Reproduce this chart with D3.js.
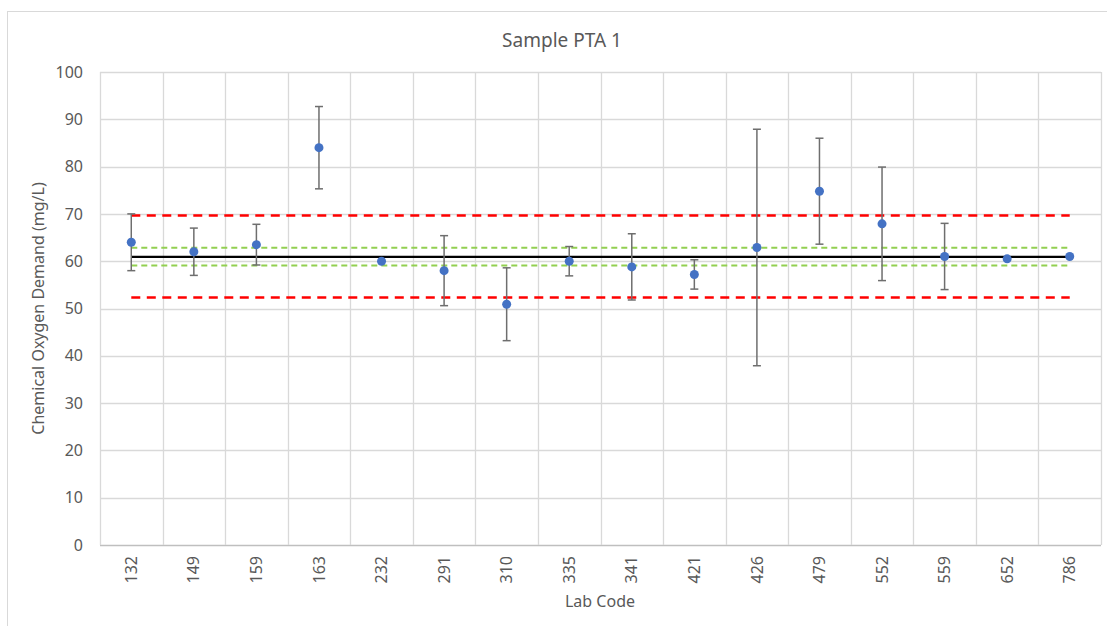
<!DOCTYPE html>
<html>
<head>
<meta charset="utf-8">
<script src="https://cdn.jsdelivr.net/npm/d3@7"></script>
<style>
body { margin: 0; background: #fff; }
text { font-family: "Noto Sans", sans-serif; fill: #595959; }
</style>
</head>
<body>
<div id="chart"></div>
<script>
var labCodes = ["132", "149", "159", "163", "232", "291", "310", "335", "341", "421", "426", "479", "552", "559", "652", "786"];
var results = [64, 62, 63.5, 84, 60, 58, 50.9, 60, 58.8, 57.2, 62.9, 74.8, 67.9, 61, 60.5, 61];
var uncertainty = [6, 5, 4.3, 8.7, 0, 7.4, 7.7, 3.1, 7, 3.1, 25, 11.2, 12, 7, 0, 0];
var assignedValue = 60.9;
var innerLimits = [59.1, 62.85];
var outerLimits = [52.35, 69.65];
var yTicks = [0, 10, 20, 30, 40, 50, 60, 70, 80, 90, 100];

var svg_size = {w: 1107, h: 626};
var margin = {top: 72, right: 6, bottom: 81, left: 100};
var plot_w = svg_size.w - margin.left - margin.right;
var plot_h = svg_size.h - margin.top - margin.bottom;

var svg = d3.select("#chart")
	.append("svg")
	.attr("width", svg_size.w)
	.attr("height", svg_size.h);

// outer chart border
svg.append("rect")
	.attr("x", 7.5).attr("y", 11.5)
	.attr("width", 1110).attr("height", 640)
	.attr("fill", "none")
	.attr("stroke", "#d9d9d9");

var g = svg.append("g").attr("transform", "translate(" + margin.left + "," + margin.top + ")");

var x = d3.scaleBand().domain(labCodes).range([0, plot_w]);
var y = d3.scaleLinear().domain([0, 100]).range([plot_h, 0]);
var xc = function(d) { return x(d) + x.bandwidth() / 2; };

// horizontal gridlines
g.selectAll(".hgrid")
	.data(yTicks).enter()
	.append("line")
	.attr("x1", 0).attr("x2", plot_w)
	.attr("y1", d => Math.round(y(d)) + 0.5).attr("y2", d => Math.round(y(d)) + 0.5)
	.attr("stroke", d => d == 0 ? "#bfbfbf" : "#d9d9d9")
	.attr("stroke-width", 1.3);

// vertical gridlines between categories
g.selectAll(".vgrid")
	.data(labCodes.concat(["end"])).enter()
	.append("line")
	.attr("x1", (d, i) => Math.round(i * x.bandwidth()) + 0.5)
	.attr("x2", (d, i) => Math.round(i * x.bandwidth()) + 0.5)
	.attr("y1", 0).attr("y2", plot_h)
	.attr("stroke", "#d9d9d9")
	.attr("stroke-width", 1.3);

// y axis labels
var yAxis = g.append("g")
	.call(d3.axisLeft(y).tickValues(yTicks).tickSize(0).tickPadding(17));
yAxis.select(".domain").remove();
yAxis.selectAll("text").style("font-size", "16px").attr("fill", "#595959");

// x axis labels
var xAxis = g.append("g")
	.attr("transform", "translate(0," + plot_h + ")")
	.call(d3.axisBottom(x).tickSize(0));
xAxis.select(".domain").remove();
xAxis.selectAll("text")
	.style("font-size", "16px")
	.attr("fill", "#595959")
	.attr("text-anchor", "end")
	.attr("transform", "rotate(-90)")
	.attr("x", -11).attr("y", 0).attr("dy", "0.35em");

// reference lines
var first = xc(labCodes[0]), last = xc(labCodes[labCodes.length - 1]);
function refLine(v, color, width, dash) {
	g.append("line")
		.attr("x1", first).attr("x2", last)
		.attr("y1", y(v)).attr("y2", y(v))
		.attr("stroke", color)
		.attr("stroke-width", width)
		.attr("stroke-dasharray", dash);
}
outerLimits.forEach(v => refLine(v, "#ff0000", 2.5, "9,6.5"));
innerLimits.forEach(v => refLine(v, "#92d050", 2, "6,4"));
refLine(assignedValue, "#000000", 2.3, null);

// error bars
var bars = g.selectAll(".err")
	.data(labCodes.map((c, i) => ({code: c, v: results[i], e: uncertainty[i]})).filter(d => d.e > 0))
	.enter().append("g");
bars.append("line")
	.attr("x1", d => xc(d.code)).attr("x2", d => xc(d.code))
	.attr("y1", d => y(d.v + d.e)).attr("y2", d => y(d.v - d.e))
	.attr("stroke", "#6e6e6e").attr("stroke-width", 1.5);
[1, -1].forEach(s => {
	bars.append("line")
		.attr("x1", d => xc(d.code) - 4).attr("x2", d => xc(d.code) + 4)
		.attr("y1", d => y(d.v + s * d.e)).attr("y2", d => y(d.v + s * d.e))
		.attr("stroke", "#6e6e6e").attr("stroke-width", 1.5);
});

// points
g.selectAll(".pt")
	.data(labCodes).enter()
	.append("circle")
	.attr("cx", d => xc(d))
	.attr("cy", (d, i) => y(results[i]))
	.attr("r", 4.5)
	.attr("fill", "#4472c4");

// titles
svg.append("text")
	.attr("x", 562).attr("y", 47)
	.attr("text-anchor", "middle")
	.style("font-size", "19px")
	.text("Sample PTA 1");

svg.append("text")
	.attr("x", 600).attr("y", 607)
	.attr("text-anchor", "middle")
	.style("font-size", "16px")
	.text("Lab Code");

svg.append("text")
	.attr("transform", "translate(44," + (margin.top + plot_h / 2) + ") rotate(-90)")
	.attr("text-anchor", "middle")
	.style("font-size", "16px")
	.text("Chemical Oxygen Demand (mg/L)");
</script>
</body>
</html>
